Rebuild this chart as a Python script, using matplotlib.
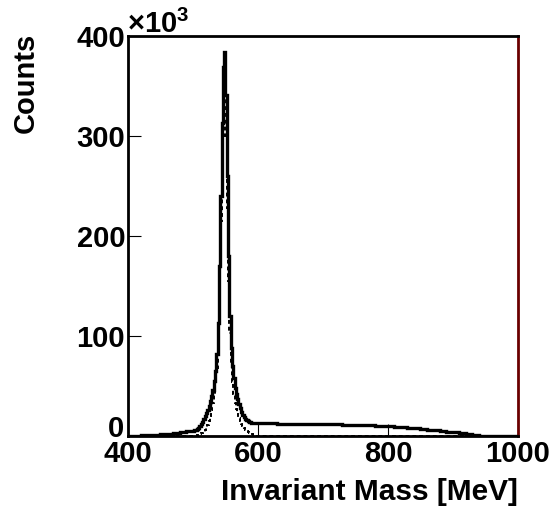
import matplotlib
matplotlib.use("Agg")
import numpy as np
import matplotlib.pyplot as plt

plt.rcParams['font.family'] = ['Liberation Sans', 'DejaVu Sans']
plt.rcParams['font.weight'] = 'bold'
plt.rcParams['mathtext.fontset'] = 'custom'
plt.rcParams['mathtext.rm'] = 'Liberation Sans:bold'
plt.rcParams['mathtext.bf'] = 'Liberation Sans:bold'

# ---------------- data (counts in units of 10^3) ----------------
# bin edges: 10 MeV bins 400-500, 2 MeV bins 500-600, 10 MeV bins 600-1000
edges_low = np.arange(400, 501, 10)
edges_peak = np.arange(500, 601, 2)
edges_high = np.arange(600, 1001, 10)

total_low = [0.2, 0.4, 0.6, 0.9, 1.2, 1.6, 2.1, 3.0, 3.8, 5.0]
total_peak = [5.5, 6.0, 6.5, 7.5, 8.5, 10.0, 12.0, 14.0, 17.0, 20.0,
              23.0, 26.0, 30.0, 35.0, 40.0, 46.0, 55.0, 65.0, 82.0, 113.0,
              170.0, 240.0, 313.0, 369.0, 384.0, 341.0, 260.0, 180.0, 120.0, 88.0,
              70.0, 58.0, 48.0, 42.0, 37.0, 32.0, 28.0, 24.0, 21.0, 19.0,
              17.0, 16.0, 15.0, 14.5, 14.0, 13.5, 13.3, 13.2, 13.1, 13.0]
total_high = [12.9, 12.8, 12.6, 12.5, 12.4, 12.3, 12.2, 12.1, 12.0, 11.9,
              11.8, 11.7, 11.6, 11.5, 11.3, 11.1, 10.9, 10.6, 10.3, 10.0,
              9.6, 9.2, 8.7, 8.2, 7.7, 7.1, 6.5, 5.9, 5.2, 4.5,
              3.8, 3.0, 2.0, 1.0, 0.4, 0.1, 0.0, 0.0, 0.0, 0.0]

signal_low = [0.0] * 10
signal_peak = [0.0, 0.2, 0.5, 1.0, 1.5, 2.0, 2.7, 3.5, 4.5, 6.0,
               8.0, 11.0, 15.0, 20.0, 26.0, 33.0, 42.0, 52.0, 68.0, 97.0,
               150.0, 215.0, 285.0, 330.0, 341.0, 300.0, 228.0, 155.0, 103.0, 72.0,
               54.0, 42.0, 33.0, 27.0, 22.0, 18.0, 15.0, 12.0, 10.0, 8.0,
               6.5, 5.0, 4.0, 3.0, 2.3, 1.7, 1.2, 0.8, 0.5, 0.3]
signal_high = [0.3] * 30 + [0.0] * 10

x_ticks = [400, 600, 800, 1000]
y_ticks = [0, 100, 200, 300, 400]

edges = np.concatenate([edges_low, edges_peak[1:], edges_high[1:]])
total = np.array(total_low + total_peak + total_high)
signal = np.array(signal_low + signal_peak + signal_high)

FS = 21

# ---------------- figure ----------------
fig = plt.figure(figsize=(5.56, 5.08), dpi=100)
ax = fig.add_axes([128/556, 1 - 436/508, 390/556, 400/508])

ax.plot([400, 1000], [0, 0], color='#c03030', lw=1.0, zorder=1)
ax.stairs(signal, edges, color='black', lw=1.4, linestyle=(0, (2, 1.5)), zorder=2)
ax.stairs(total, edges, color='black', lw=2.4, zorder=3)

ax.set_xlim(400, 1000)
ax.set_ylim(0, 400)
ax.set_xticks(x_ticks)
ax.set_yticks(y_ticks)
ax.set_xticklabels([str(v) for v in x_ticks])
# the "0" label is placed separately, nudged up as in the reference
ax.set_yticklabels(['' if v == 0 else str(v) for v in y_ticks])
ax.annotate(str(y_ticks[0]), xy=(0, 0), xycoords='axes fraction',
            xytext=(-2.5, 5), textcoords='offset points', ha='right', va='center',
            fontsize=FS, fontweight='bold', annotation_clip=False)
ax.tick_params(axis='both', direction='in', length=9, width=0.8, labelsize=FS,
               top=False, right=False)
ax.tick_params(axis='x', pad=3)
ax.tick_params(axis='y', pad=2)
for lab in ax.get_xticklabels() + ax.get_yticklabels():
    lab.set_fontweight('bold')

for s in ['left', 'bottom', 'top']:
    ax.spines[s].set_linewidth(2.0)
    ax.spines[s].set_color('black')
ax.spines['right'].set_linewidth(2.0)
ax.spines['right'].set_color('#6a0000')

fig.text(518/556, 1 - 492/508, 'Invariant Mass [MeV]', ha='right', va='center',
         fontsize=21.5, fontweight='bold')
fig.text(26/556, 1 - 33/508, 'Counts', ha='center', va='top', rotation=90,
         fontsize=FS, fontweight='bold')
fig.text(127/556, 1 - 24/508, r'$\times$10$^{3}$', ha='left', va='center',
         fontsize=FS, fontweight='bold')

fig.savefig('out.png', dpi=100)
